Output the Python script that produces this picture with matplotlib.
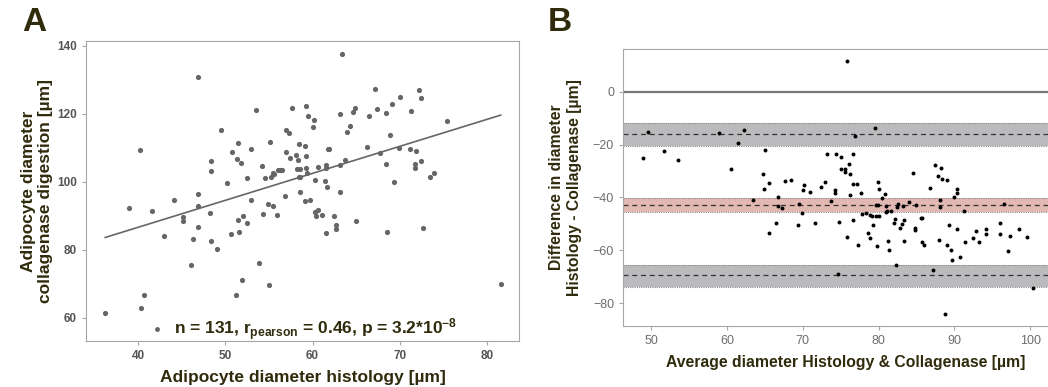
import numpy as np
import matplotlib
matplotlib.use("Agg")
import matplotlib.pyplot as plt
from matplotlib.lines import Line2D

plt.rcParams['font.family'] = ['Liberation Sans', 'DejaVu Sans']
plt.rcParams['mathtext.fontset'] = 'custom'
plt.rcParams['mathtext.rm'] = 'Liberation Sans:bold'
plt.rcParams['mathtext.bf'] = 'Liberation Sans:bold'
plt.rcParams['mathtext.it'] = 'Liberation Sans:bold'

# --- panel A: histology vs collagenase digestion ---
hist_um = [36.2, 38.9, 40.2, 40.3, 40.6, 41.6, 42.95, 44.1, 45.1, 45.1,
           46.0, 46.3, 46.8, 46.8, 46.9, 46.9, 48.2, 48.3, 48.3, 48.4,
           49.0, 49.5, 50.2, 50.7, 50.65, 51.2, 51.3, 51.4, 51.5, 51.6,
           51.8, 51.9, 52.0, 52.5, 52.5, 52.95, 52.95, 53.5, 53.9, 54.2,
           54.3, 54.6, 54.9, 54.95, 55.1, 55.25, 55.5, 55.5, 55.6, 55.9,
           56.0, 56.3, 56.5, 56.8, 56.9, 57.0, 57.3, 57.4, 57.7, 58.1,
           58.2, 58.3, 58.4, 58.4, 58.6, 58.6, 58.6, 59.1, 59.2, 59.2,
           59.2, 59.1, 59.4, 59.5, 59.7, 60.1, 60.2, 60.3, 60.3, 60.4,
           60.65, 60.6, 61.1, 61.4, 61.5, 61.55, 61.5, 61.7, 61.8, 61.9,
           62.5, 62.75, 62.75, 63.1, 63.1, 63.15, 63.4, 63.7, 64.0, 64.3,
           64.7, 64.9, 64.95, 66.2, 66.5, 67.15, 67.4, 67.8, 68.4, 68.4,
           68.5, 68.85, 69.1, 69.3, 69.95, 70.0, 71.2, 71.3, 71.8, 71.8,
           71.9, 72.2, 72.45, 72.45, 72.7, 73.5, 74.0, 75.4, 81.6]
coll_um = [61.4, 92.4, 109.3, 62.8, 66.6, 91.4, 84.1, 94.7, 89.5, 88.5,
           75.4, 83.3, 130.8, 96.4, 92.9, 86.8, 90.8, 106.2, 103.3, 82.7,
           80.2, 115.2, 99.6, 108.8, 84.6, 66.8, 106.6, 111.4, 88.7, 85.2,
           105.5, 71.2, 90.0, 88.0, 101.0, 109.5, 94.5, 121.1, 76.1, 104.5,
           90.4, 101.0, 93.5, 69.6, 111.8, 101.4, 102.5, 93.0, 102.2, 90.1,
           103.4, 103.5, 103.5, 95.8, 115.1, 108.7, 114.3, 107.1, 121.6, 108.0,
           103.8, 106.3, 111.1, 101.3, 101.5, 103.7, 96.9, 110.4, 107.6, 104.1,
           122.2, 94.3, 102.6, 119.4, 94.5, 116.2, 118.1, 100.5, 91.0, 89.8,
           91.8, 104.3, 90.2, 100.1, 104.8, 104.0, 84.9, 98.5, 109.5, 109.7,
           89.8, 87.4, 86.1, 119.9, 97.0, 105.0, 137.6, 106.4, 114.7, 116.4,
           120.4, 121.6, 88.5, 110.2, 119.3, 127.3, 121.3, 108.6, 120.2, 105.2,
           85.3, 113.8, 123.0, 99.9, 109.9, 124.8, 109.6, 120.9, 105.1, 104.0,
           108.9, 127.1, 124.6, 106.0, 86.5, 101.4, 102.7, 117.8, 69.9]
fit_x = [36.2, 81.6]
fit_y = [83.6, 119.6]
stats_label = r"n = 131, r$_{\mathrm{pearson}}$ = 0.46, p = 3.2*10$^{-8}$"

# --- panel B: Bland-Altman ---
avg_um = [48.9, 49.65, 51.7, 53.6, 59.0, 60.6, 61.5, 62.3, 63.5, 64.7,
          64.9, 65.0, 65.5, 65.6, 66.5, 66.8, 66.8, 67.3, 67.6, 68.4,
          69.5, 69.4, 69.9, 70.2, 70.1, 71.0, 71.6, 72.4, 73.0, 73.2,
          73.7, 74.2, 74.2, 74.4, 74.7, 74.85, 75.0, 75.1, 75.6, 75.6,
          75.8, 75.8, 76.25, 76.1, 76.2, 76.65, 76.7, 76.7, 76.9, 77.1,
          77.25, 77.65, 77.8, 78.3, 78.6, 78.9, 78.9, 79.1, 79.3, 79.55,
          79.7, 79.7, 79.8, 79.9, 80.0, 79.9, 80.1, 80.5, 80.8, 81.0,
          81.0, 81.1, 81.2, 81.4, 81.6, 82.1, 82.2, 82.3, 82.45, 82.6,
          82.85, 83.1, 83.2, 83.4, 83.4, 84.0, 84.6, 84.75, 84.75, 85.0,
          85.6, 85.8, 85.8, 86.0, 86.75, 87.2, 87.4, 87.9, 88.0, 88.1,
          88.1, 88.3, 88.4, 88.8, 89.1, 89.1, 89.3, 89.5, 89.7, 89.9,
          90.3, 90.4, 90.4, 90.7, 91.3, 91.4, 92.45, 92.9, 93.2, 94.2,
          94.2, 96.0, 96.0, 96.6, 97.1, 97.3, 98.5, 99.6, 100.4]
diff_um = [-25.2, -15.1, -22.4, -25.8, -15.6, -29.3, -19.4, -14.6, -41.1, -31.1,
           -37.0, -22.0, -34.4, -53.4, -49.7, -39.8, -43.2, -44.1, -33.9, -33.6,
           -42.6, -50.6, -45.8, -35.4, -37.2, -37.9, -49.5, -36.0, -34.3, -23.4,
           -41.4, -37.3, -38.4, -23.4, -69.0, -49.4, -24.6, -29.3, -29.3, -30.5,
           11.6, -54.9, -38.9, -27.3, -31.0, -35.1, -23.6, -48.5, -16.8, -34.9,
           -57.8, -38.2, -46.3, -46.0, -53.5, -46.6, -55.2, -47.1, -50.3, -13.9,
           -42.8, -47.0, -58.2, -34.0, -36.9, -42.8, -47.0, -40.2, -38.7, -43.1,
           -45.5, -45.1, -56.3, -59.8, -45.0, -49.6, -48.0, -65.5, -43.6, -42.3,
           -51.6, -49.9, -43.3, -48.5, -56.4, -41.8, -30.6, -51.4, -52.5, -42.7,
           -47.6, -47.7, -56.8, -58.1, -36.6, -67.5, -27.7, -32.0, -56.0, -41.1,
           -43.8, -28.7, -33.2, -83.9, -33.5, -57.8, -50.6, -59.8, -63.7, -39.8,
           -52.0, -36.9, -38.2, -62.7, -45.0, -56.8, -55.5, -52.6, -56.7, -51.8,
           -53.8, -49.5, -53.9, -42.3, -60.1, -54.7, -52.1, -54.9, -74.1]
# mean difference and limits of agreement, each with its confidence band
ba_lines = [-16.1, -43.0, -69.4]
ba_lo = [-20.4, -45.5, -73.7]
ba_hi = [-11.95, -40.4, -65.5]
ba_colors = ['#bbbbbd', '#e2b8b3', '#bbbbbd']

label_col = '#302b0c'
spine_col = '#a6a6a6'

fig = plt.figure(figsize=(10.48, 3.87), dpi=100)

# ---------------- A ----------------
ax1 = fig.add_axes([0.0821, 0.1189, 0.4131, 0.7751])
ax1.scatter(hist_um, coll_um, s=14, color='#666666', linewidths=0, zorder=3)
ax1.plot(fit_x, fit_y, color='#666666', lw=1.2, zorder=2)
ax1.set_xlim(34.0, 83.7)
ax1.set_ylim(53.15, 141.4)
ax1.set_xticks([40, 50, 60, 70, 80])
ax1.set_yticks([60, 80, 100, 120, 140])
for lab in ax1.get_xticklabels() + ax1.get_yticklabels():
    lab.set_fontweight('bold')
ax1.tick_params(colors='#a6a6a6', labelcolor='#555555', labelsize=8.5, length=3)
ax1.set_xlabel('Adipocyte diameter histology [µm]', fontsize=12.5,
               fontweight='bold', color=label_col, labelpad=6)
ax1.set_ylabel('Adipocyte diameter\ncollagenase digestion [µm]', fontsize=12.5,
               fontweight='bold', color=label_col, labelpad=3)
for sp in ax1.spines.values():
    sp.set_color(spine_col)
h = Line2D([], [], ls='none', marker='o', ms=3.5, color='#666666', mec='none')
leg = ax1.legend([h], [stats_label], loc='lower center', bbox_to_anchor=(0.5, -0.06),
                 frameon=False, handlelength=1.0, handletextpad=0.5,
                 prop={'weight': 'bold', 'size': 12.5})
for t in leg.get_texts():
    t.set_color(label_col)
fig.text(0.021, 0.92, 'A', fontsize=24, fontweight='bold', color=label_col)

# ---------------- B ----------------
ax2 = fig.add_axes([0.5945, 0.1576, 0.4246, 0.7158])
for y, lo, hi, c in zip(ba_lines, ba_lo, ba_hi, ba_colors):
    ax2.axhspan(lo, hi, color=c, lw=0, zorder=1)
    ax2.axhline(lo, color='#8c8c8c', lw=0.8, ls=(0, (1, 1)), zorder=2)
    ax2.axhline(hi, color='#8c8c8c', lw=0.8, ls=(0, (1, 1)), zorder=2)
    ax2.axhline(y, color='#333333', lw=0.9, ls=(0, (4, 3)), zorder=2)
ax2.axhline(0, color='#777777', lw=1.6, zorder=2)
ax2.scatter(avg_um, diff_um, s=8, color='black', linewidths=0, zorder=3)
ax2.set_xlim(46.3, 105)
ax2.set_ylim(-88.6, 16.1)
ax2.set_xticks([50, 60, 70, 80, 90, 100])
ax2.set_yticks([-80, -60, -40, -20, 0])
ax2.set_yticklabels(['\u221280', '\u221260', '\u221240', '\u221220', '0'])
ax2.tick_params(colors='#a6a6a6', labelcolor='#6e6e6e', labelsize=9, length=3)
ax2.set_xlabel('Average diameter Histology & Collagenase [µm]', fontsize=11.3,
               fontweight='bold', color=label_col, labelpad=6)
ax2.set_ylabel('Difference in diameter\nHistology - Collagenase [µm]', fontsize=11.3,
               fontweight='bold', color=label_col, labelpad=8)
for sp in ax2.spines.values():
    sp.set_color(spine_col)
fig.text(0.523, 0.92, 'B', fontsize=24, fontweight='bold', color=label_col)

fig.savefig('out.png', dpi=100)
